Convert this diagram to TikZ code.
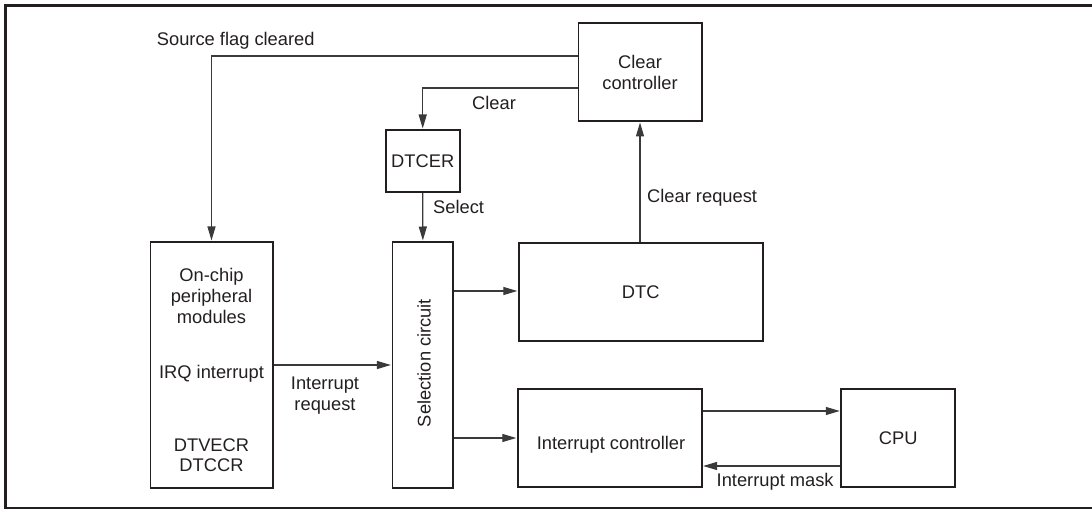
\documentclass[tikz,border=0pt]{standalone}
\usepackage{fontspec}
\setmainfont{Liberation Sans}
\usetikzlibrary{arrows.meta}
\definecolor{ink}{HTML}{231F20}
\definecolor{wire}{HTML}{3A3A3A}
\begin{document}
\begin{tikzpicture}[x=1pt,y=-1pt,
  every node/.style={font=\fontsize{18.3}{21}\selectfont, text=ink},
  box/.style={draw=ink, line width=1.8pt, inner sep=0pt, align=center},
  wire/.style={draw=wire, line width=1.2pt},
  arr/.style={wire, -{Triangle[length=14pt,width=8pt]}, shorten >=0.6pt},
  lbl/.style={inner sep=0pt, anchor=base west},
  txt/.style={inner sep=0pt, anchor=base}]
\useasboundingbox (0,0) rectangle (1092,510);
% frame
\draw[ink, line width=2.2pt] (1096,5.5) -- (5.5,5.5) -- (5.5,508) -- (1096,508);
% boxes
\node[box, minimum width=123.2pt, minimum height=98pt] (cc) at (640,72) {Clear\\controller};
\node[box, minimum width=73.8pt, minimum height=62pt] (dtcer) at (422.7,161) {DTCER};
\node[box, minimum width=122.2pt, minimum height=246pt] (pm) at (211.5,365) {};
\node[box, minimum width=60.9pt, minimum height=246pt] (sel) at (422.85,365) {};
\node[box, minimum width=243.8pt, minimum height=98pt] (dtc) at (640.7,292) {DTC};
\node[box, minimum width=183.8pt, minimum height=98pt] (ic) at (609.7,438) {};
\node[box, minimum width=113.8pt, minimum height=98pt] (cpu) at (898.2,438) {CPU};
% texts inside boxes
\node[txt] (pm1) at (211.5,282) {On-chip};
\node[txt] (pm2) at (211.5,303) {peripheral};
\node[txt] (pm3) at (211.5,324) {modules};
\node[txt] (pm4) at (211.5,378) {IRQ interrupt};
\node[txt] (pm5) at (211.5,451) {DTVECR};
\node[txt] (pm6) at (211.5,471) {DTCCR};
\node[rotate=90, inner sep=0pt] (seltxt) at (424,363) {Selection circuit};
\node[txt] (ictxt) at (611,449.3) {Interrupt controller};
% labels
\node[lbl] (lsrc) at (156.7,45.5) {Source flag cleared};
\node[lbl] (lclr) at (472,110) {Clear};
\node[lbl] (lsel) at (433,214) {Select};
\node[lbl] (lcrq) at (647,203) {Clear request};
\node[inner sep=0pt, align=center] (lirq) at (325,395.5) {Interrupt\\request};
\node[lbl] (lmask) at (716.5,486) {Interrupt mask};
% connectors
\draw[arr] (cc.west |- 0,56) -| (pm.north);
\draw[arr] (cc.west |- 0,88) -| (dtcer.north);
\draw[arr] (dtcer.south) -- (sel.north);
\draw[arr] (cc.south |- dtc.north) -- (cc.south);
\draw[arr] (pm.east |- 0,365) -- (sel.west |- 0,365);
\draw[arr] (sel.east |- 0,291) -- (dtc.west |- 0,291);
\draw[arr] (sel.east |- 0,438) -- (ic.west |- 0,438);
\draw[arr] (ic.east |- 0,411) -- (cpu.west |- 0,411);
\draw[arr] (cpu.west |- 0,466) -- (ic.east |- 0,466);
\end{tikzpicture}
\end{document}
